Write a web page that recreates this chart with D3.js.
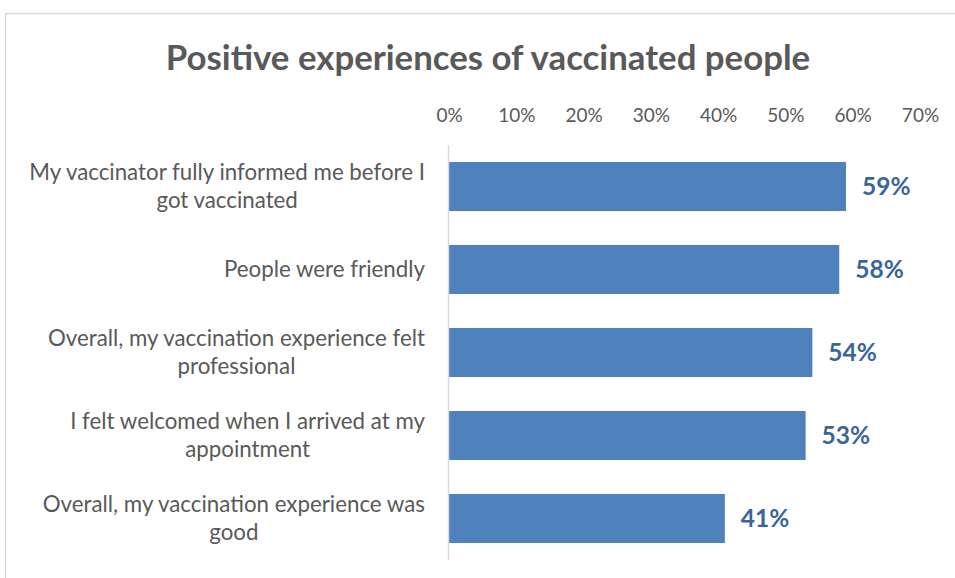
<!DOCTYPE html>
<html>
<head>
<meta charset="utf-8">
<script src="https://cdn.jsdelivr.net/npm/d3@7"></script>
<style>
  html, body { margin: 0; padding: 0; background: #fff; }
  svg { display: block; font-family: Lato, "Open Sans", sans-serif; }
</style>
</head>
<body>
<svg id="chart" width="955" height="578"></svg>
<script>
// Survey responses: share agreeing with each statement
const categories = [
  "My vaccinator fully informed me before I|got vaccinated",
  "People were friendly",
  "Overall, my vaccination experience felt|professional",
  "I felt welcomed when I arrived at my|appointment",
  "Overall, my vaccination experience was|good"
];
const values = [0.59, 0.58, 0.54, 0.53, 0.41];
const tickValues = [0, 0.1, 0.2, 0.3, 0.4, 0.5, 0.6, 0.7];
const title = "Positive experiences of vaccinated people";

const svg = d3.select("#chart");
const textGray = "#595959";

// Outer chart frame
svg.append("rect")
  .attr("x", 5.5).attr("y", 13.5)
  .attr("width", 970).attr("height", 590)
  .attr("fill", "#fff").attr("stroke", "#d9d9d9").attr("stroke-width", 1.5);

// Title
svg.append("text")
  .attr("x", 488).attr("y", 70)
  .attr("text-anchor", "middle")
  .attr("fill", textGray)
  .style("font-size", "34.8px").style("font-weight", "bold")
  .text(title);

const x = d3.scaleLinear().domain([0, 0.7]).range([449, 920]);
const y = d3.scaleBand().domain(d3.range(categories.length))
  .range([145, 560]).paddingInner(0.41).paddingOuter(0.205);

// Top axis with percent labels, no domain or tick marks
const xAxis = svg.append("g")
  .attr("transform", "translate(0,122)")
  .call(d3.axisTop(x).tickValues(tickValues).tickFormat(d3.format(".0%")).tickSize(0).tickPadding(0));
xAxis.select(".domain").remove();
xAxis.selectAll("text")
  .attr("fill", textGray)
  .style("font-family", "Lato, 'Open Sans', sans-serif")
  .style("font-size", "19px");

// Bars
svg.append("g").selectAll("rect")
  .data(values)
  .join("rect")
  .attr("x", x(0))
  .attr("y", (d, i) => y(i))
  .attr("width", d => x(d) - x(0))
  .attr("height", y.bandwidth())
  .attr("fill", "#4f81bd");

// Vertical category axis line
svg.append("line")
  .attr("x1", x(0) - 0.5).attr("x2", x(0) - 0.5)
  .attr("y1", 145).attr("y2", 560)
  .attr("stroke", "#d9d9d9").attr("stroke-width", 1.5);

// Value labels
svg.append("g").selectAll("text")
  .data(values)
  .join("text")
  .attr("x", d => x(d) + 16)
  .attr("y", (d, i) => y(i) + y.bandwidth() / 2)
  .attr("dy", "0.35em")
  .attr("fill", "#3a659b")
  .style("font-size", "24.5px").style("font-weight", "bold")
  .text(d => d3.format(".0%")(d));

// Category labels: wrapped lines centred on each other, block right-aligned
const lineH = 28;
const labelRight = 425;
const labels = svg.append("g").selectAll("text")
  .data(categories)
  .join("text")
  .attr("fill", textGray)
  .attr("text-anchor", "middle")
  .style("font-size", "22.3px");

labels.each(function (d, i) {
  const lines = d.split("|");
  const t = d3.select(this);
  const cy = y(i) + y.bandwidth() / 2;
  const top = cy - (lines.length - 1) * lineH / 2;
  const spans = lines.map((ln, k) => t.append("tspan")
    .attr("y", top + k * lineH)
    .attr("dy", "0.35em")
    .text(ln));
  const w = d3.max(spans, s => s.node().getComputedTextLength());
  spans.forEach(s => s.attr("x", labelRight - w / 2));
});
</script>
</body>
</html>
